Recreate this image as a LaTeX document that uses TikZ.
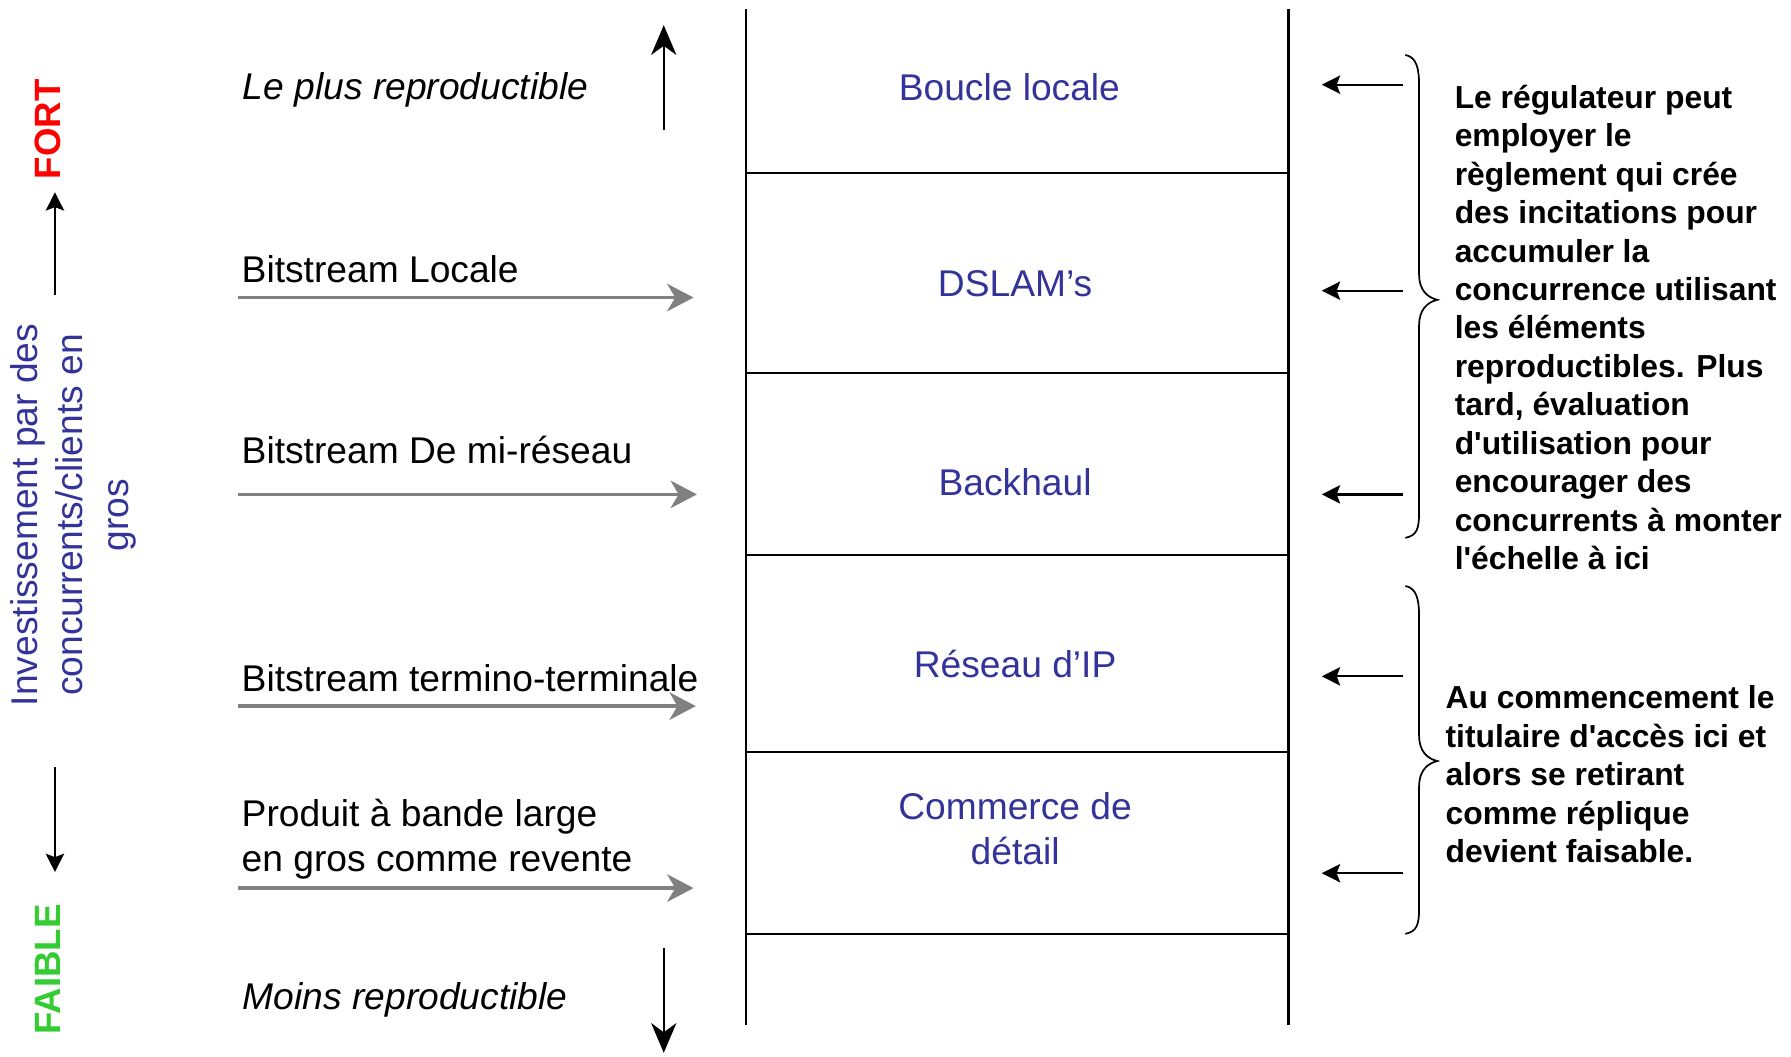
\documentclass[tikz,border=0pt]{standalone}
\usepackage{fontspec}
\setmainfont{Liberation Sans}[Ligatures=TeXOff]
\usetikzlibrary{arrows.meta}
\definecolor{lblue}{RGB}{51,51,153}
\definecolor{lgreen}{RGB}{51,204,51}
\definecolor{arrgray}{RGB}{128,128,128}
\begin{document}
\begin{tikzpicture}[x=1pt,y=-1pt,
  lab/.style={font=\fontsize{32.5}{39}\selectfont, inner sep=0pt},
  celltext/.style={lab, text=lblue, align=center},
  note/.style={font=\fontsize{27.8}{33.6}\selectfont\bfseries, inner sep=0pt, align=left, anchor=north west},
  grayarrow/.style={draw=arrgray, line width=3pt, -{Stealth[length=23pt,width=24pt,inset=7pt]}},
  bigarrow/.style={draw=black, line width=2pt, -{Stealth[length=26pt,width=22pt,inset=8pt]}},
  smallarrow/.style={draw=black, line width=2pt, -{Stealth[length=16pt,width=16pt,inset=3pt]}},
  tableline/.style={draw=black, line width=2pt},
  brace/.style={draw=black, line width=1.5pt}]
\useasboundingbox (0,0) rectangle (1565,923);

% table
\coordinate (TL) at (652,8);
\coordinate (BL) at (652,896);
\coordinate (TR) at (1126,8);
\coordinate (BR) at (1126,896);
\draw[tableline] (TL) -- (BL);
\draw[tableline] (TR) -- (BR);
\foreach \yy/\nm in {151/h1,326/h2,485/h3,657/h4,816/h5}{
  \coordinate (\nm l) at (652,\yy);
  \coordinate (\nm r) at (1126,\yy);
  \draw[tableline] (\nm l) -- (\nm r);
}

% cell labels
\node[celltext] (c1) at (882,76) {Boucle locale};
\node[celltext] (c2) at (887,248) {DSLAM’s};
\node[celltext] (c3) at (887,421) {Backhaul};
\node[celltext] (c4) at (887,580) {Réseau d’IP};
\node[celltext] (c5) at (887,724) {Commerce de\\détail};

% left labels
\node[lab, anchor=base west] (lp) at (212,87) {\itshape Le plus reproductible};
\node[lab, anchor=base west] (b1) at (211,247) {Bitstream Locale};
\node[lab, anchor=base west] (b2) at (211,405) {Bitstream De mi-réseau};
\node[lab, anchor=base west] (b3) at (211,604) {Bitstream termino-terminale};
\node[lab, anchor=north west, align=left] (b4) at (211,698) {Produit à bande large\\en gros comme revente};
\node[lab, anchor=base west] (mr) at (212,882) {\itshape Moins reproductible};

% gray arrows
\foreach \yy/\xe/\nm in {260/606/g1,432/609/g2,617/608/g3,776/606/g4}{
  \coordinate (\nm s) at (208,\yy);
  \coordinate (\nm e) at (\xe,\yy);
  \draw[grayarrow] (\nm s) -- (\nm e);
}

% big vertical arrows
\coordinate (upS) at (580,114);
\coordinate (upE) at (580,22);
\draw[bigarrow] (upS) -- (upE);
\coordinate (dnS) at (580,828);
\coordinate (dnE) at (580,920);
\draw[bigarrow] (dnS) -- (dnE);

% left axis
\node[inner sep=0pt, rotate=90, text=red, font=\fontsize{32}{38}\selectfont\bfseries] (fort) at (42,113) {FORT};
\node[inner sep=0pt, rotate=90, text=lgreen, font=\fontsize{32}{38}\selectfont\bfseries] (faible) at (42,847) {FAIBLE};
\coordinate (fS) at (48,258);
\coordinate (fE) at (48,168);
\draw[smallarrow] (fS) -- (fE);
\coordinate (wS) at (48,670);
\coordinate (wE) at (48,762);
\draw[smallarrow] (wS) -- (wE);
\node[rotate=90, inner sep=0pt, align=center, text=lblue, font=\fontsize{32.5}{40}\selectfont] (inv) at (64,450) {Investissement par des\\concurrents/clients en\\gros};

% right small arrows
\foreach \yy/\nm in {74/r1,254/r2,432/r3,591/r4,763/r5}{
  \coordinate (\nm s) at (1226,\yy);
  \coordinate (\nm e) at (1155,\yy);
  \draw[smallarrow] (\nm s) -- (\nm e);
}

% braces
\draw[brace] (1228,48) .. controls (1238,50) and (1240,60) .. (1240,75) -- (1240,240)
  .. controls (1240,253) and (1247,260) .. (1256,262)
  .. controls (1247,264) and (1240,271) .. (1240,284) -- (1240,448)
  .. controls (1240,462) and (1238,468) .. (1228,470);
\draw[brace] (1228,512) .. controls (1238,514) and (1240,524) .. (1240,539) -- (1240,643)
  .. controls (1240,656) and (1247,663) .. (1256,665)
  .. controls (1247,667) and (1240,674) .. (1240,687) -- (1240,794)
  .. controls (1240,808) and (1238,814) .. (1228,816);

% notes
\node[note] (n1) at (1271,74) {Le régulateur peut\\employer le\\règlement qui crée\\des incitations pour\\accumuler la\\concurrence utilisant\\les éléments\\reproductibles. Plus\\tard, évaluation\\d'utilisation pour\\encourager des\\concurrents à monter\\l'échelle à ici};
\node[note] (n2) at (1263,599) {Au commencement le\\titulaire d'accès ici et\\alors se retirant\\comme réplique\\devient faisable.};
\end{tikzpicture}
\end{document}
